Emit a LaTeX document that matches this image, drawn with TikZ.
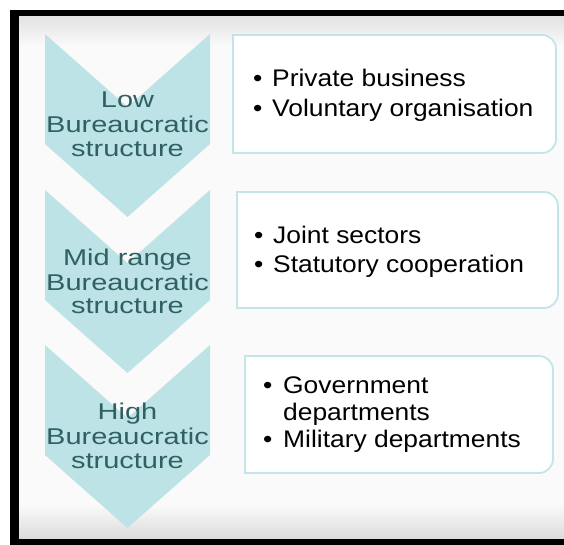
\documentclass[tikz,border=0pt]{standalone}
\usepackage{fontspec}
\newfontfamily\chevfont[FakeStretch=1.27]{Liberation Sans}
\newfontfamily\itemfont[FakeStretch=1.1]{Liberation Sans}
\definecolor{chevfill}{HTML}{BEE3E6}
\definecolor{chevtext}{HTML}{2F6062}
\definecolor{boxline}{HTML}{C3E5EA}
\definecolor{bgmain}{HTML}{FAFAFA}
\definecolor{bgtop}{HTML}{E3E3E3}
\definecolor{bgbot}{HTML}{DCDCDC}
\newcommand{\bul}[1]{\makebox[#1][l]{•}}
% box with square left corners and rounded right corners (radius 14)
\newcommand{\halfroundbox}[4]{%
  \draw[itembox] (#1,#2) -- ({#3-14},#2) .. controls ({#3-6.27},#2) and (#3,{#2+6.27}) .. (#3,{#2+14})
    -- (#3,{#4-14}) .. controls (#3,{#4-6.27}) and ({#3-6.27},#4) .. ({#3-14},#4)
    -- (#1,#4) -- cycle;}
\tikzset{
  chevron/.pic={\fill[chevfill] (0,0) -- (82.5,73) -- (165,0) -- (165,110) -- (82.5,183) -- (0,110) -- cycle;},
  chevlabel/.style={font=\chevfont\fontsize{22.8}{24.5}\selectfont, text=chevtext, anchor=base, inner sep=0pt},
  itemtext/.style={font=\itemfont\fontsize{24}{27}\selectfont, text=black, anchor=base west, inner sep=0pt},
  itembox/.style={draw=boxline, line width=1.8pt, fill=white, line join=miter}
}
\begin{document}
\begin{tikzpicture}[x=1pt,y=-1pt]
\useasboundingbox (0,0) rectangle (564,545);
\fill[white] (0,0) rectangle (564,545);
\fill[black] (10,10) rectangle (564,545);
\fill[bgmain] (19,17) rectangle (564,538);
\shade[top color=bgtop, bottom color=bgmain] (19,17) rectangle (564,46);
\shade[top color=bgmain, bottom color=bgbot] (19,505) rectangle (564,538);

% chevrons
\pic at (45,34) {chevron};
\pic at (45,190) {chevron};
\pic at (45,345) {chevron};

\node[chevlabel] (c1a) at (127.5,107.5) {Low};
\node[chevlabel] (c1b) at (127.5,133) {Bureaucratic};
\node[chevlabel] (c1c) at (127.5,157) {structure};

\node[chevlabel] (c2a) at (127.5,265) {Mid range};
\node[chevlabel] (c2b) at (127.5,290) {Bureaucratic};
\node[chevlabel] (c2c) at (127.5,313.5) {structure};

\node[chevlabel] (c3a) at (127.5,419) {High};
\node[chevlabel] (c3b) at (127.5,444) {Bureaucratic};
\node[chevlabel] (c3c) at (127.5,468) {structure};

% boxes
\halfroundbox{233}{35}{556}{153}
\halfroundbox{237}{192}{558}{308}
\halfroundbox{245}{356}{553}{473}

\node[itemtext] (b1a) at (253,87) {\bul{19pt}Private business};
\node[itemtext] (b1b) at (253,117) {\bul{19pt}Voluntary organisation};

\node[itemtext] (b2a) at (254,243.3) {\bul{19pt}Joint sectors};
\node[itemtext] (b2b) at (254,272.7) {\bul{19pt}Statutory cooperation};

\node[itemtext] (b3a) at (263,393) {\bul{20pt}Government};
\node[itemtext] (b3b) at (283,420) {departments};
\node[itemtext] (b3c) at (263,447) {\bul{20pt}Military departments};
\end{tikzpicture}
\end{document}
